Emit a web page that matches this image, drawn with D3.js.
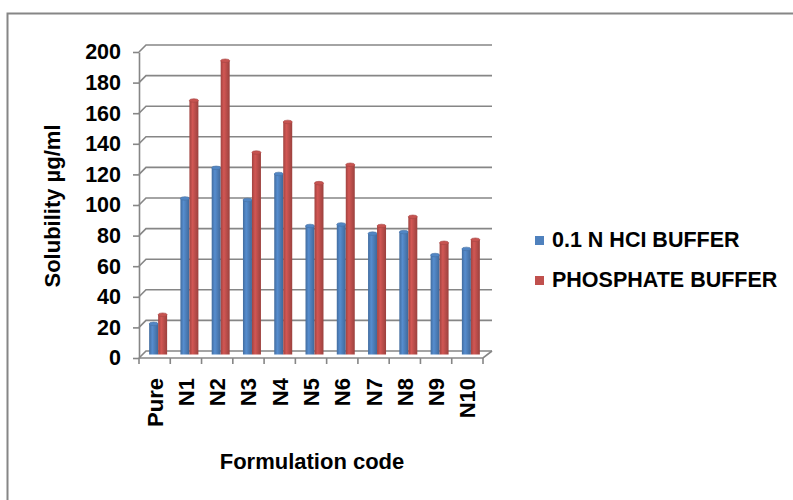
<!DOCTYPE html>
<html>
<head>
<meta charset="utf-8">
<script src="https://cdn.jsdelivr.net/npm/d3@7"></script>
<style>
  body { margin: 0; background: #fff; }
  svg { display: block; font-family: "Liberation Sans", Arial, sans-serif; font-weight: bold; }
  .grid line, .grid path { stroke: #868686; stroke-width: 1.6; fill: none; }
</style>
</head>
<body>
<svg id="chart" width="793" height="500"></svg>
<script>
// chart data
const categories = ['Pure', 'N1', 'N2', 'N3', 'N4', 'N5', 'N6', 'N7', 'N8', 'N9', 'N10'];
const series = ['0.1 N HCI BUFFER', 'PHOSPHATE BUFFER'];
const hclValues = [20, 102, 122, 101, 118, 84, 85, 79, 80, 65, 69];
const phosphateValues = [26, 166, 192, 132, 152, 112, 124, 84, 90, 73, 75];
const yTicks = [0, 20, 40, 60, 80, 100, 120, 140, 160, 180, 200];
const colors = ['#4f81bd', '#c0504d'];

const svg = d3.select('#chart');

// outer chart frame (runs off the right and bottom of the picture)
svg.append('rect')
    .attr('x', 7.5).attr('y', 13.5)
    .attr('width', 820).attr('height', 520)
    .attr('fill', 'none')
    .attr('stroke', '#868686')
    .attr('stroke-width', 2);

// front plane scales; the back wall is shifted by the depth offset
const depth = [7, -7];
const x = d3.scaleBand().domain(categories).range([139, 483]).padding(0);
const y = d3.scaleLinear().domain([0, 200]).range([358, 52]);
const xs = d3.scaleBand().domain(series).range([0, x.bandwidth()]).paddingInner(0).paddingOuter(0.74);

// gridlines: short diagonal on the side wall, then across the back wall
const grid = svg.append('g').attr('class', 'grid');
grid.selectAll('path.gl')
    .data(yTicks)
  .enter().append('path')
    .attr('class', 'gl')
    .attr('d', d => `M139,${y(d)} L${139 + depth[0]},${y(d) + depth[1]} L${483 + depth[0] + 2},${y(d) + depth[1]}`);

// floor front edge and right diagonal
grid.append('path')
    .attr('d', `M139,${y(0)} L483,${y(0)} L${483 + depth[0] + 2},${y(0) + depth[1]}`);

// y axis with ticks
const yAxis = svg.append('g')
    .attr('class', 'grid')
    .attr('transform', 'translate(139,0)')
    .call(d3.axisLeft(y).tickValues(yTicks).tickSize(6).tickSizeOuter(0).tickPadding(12));
yAxis.selectAll('text')
    .attr('fill', '#000')
    .style('font-size', '21.5px')
    .style('font-weight', 'bold')
    .style('font-family', '"Liberation Sans", Arial, sans-serif');
yAxis.selectAll('line').attr('stroke', '#868686');

// x tick marks at category boundaries
const bounds = categories.map(c => x(c)).concat([x.range()[1]]);
grid.selectAll('line.xt')
    .data(bounds)
  .enter().append('line')
    .attr('class', 'xt')
    .attr('x1', d => d).attr('x2', d => d)
    .attr('y1', y(0)).attr('y2', y(0) + 6);

// rotated category labels
svg.append('g').selectAll('text')
    .data(categories)
  .enter().append('text')
    .attr('transform', d => `translate(${x(d) + x.bandwidth() / 2 + 8},378) rotate(-90)`)
    .attr('text-anchor', 'end')
    .style('font-size', '22px')
    .text(d => d);

// cylinder-like shading
const defs = svg.append('defs');
colors.forEach((c, i) => {
    const g = defs.append('linearGradient').attr('id', 'grad' + i).attr('x1', 0).attr('x2', 1).attr('y1', 0).attr('y2', 0);
    const base = d3.color(c);
    g.append('stop').attr('offset', '0%').attr('stop-color', base.darker(0.5));
    g.append('stop').attr('offset', '35%').attr('stop-color', base.brighter(0.25));
    g.append('stop').attr('offset', '100%').attr('stop-color', base.darker(0.6));
});

// bars sit at mid depth
const mid = [depth[0] / 2, depth[1] / 2];
const valueSets = [hclValues, phosphateValues];
series.forEach((s, si) => {
    const g = svg.append('g');
    const w = xs.bandwidth();
    const data = categories.map((c, i) => ({ c: c, v: valueSets[si][i] }));
    g.selectAll('rect')
        .data(data)
      .enter().append('rect')
        .attr('x', d => x(d.c) + xs(s) + mid[0])
        .attr('y', d => y(d.v) + mid[1])
        .attr('width', w)
        .attr('height', d => y(0) - y(d.v))
        .attr('fill', `url(#grad${si})`);
    g.selectAll('ellipse')
        .data(data)
      .enter().append('ellipse')
        .attr('cx', d => x(d.c) + xs(s) + mid[0] + w / 2)
        .attr('cy', d => y(d.v) + mid[1])
        .attr('rx', w / 2)
        .attr('ry', 1.8)
        .attr('fill', d3.color(colors[si]).brighter(0.1))
        .attr('stroke', d3.color(colors[si]).darker(0.4))
        .attr('stroke-width', 0.6);
});

// axis titles
svg.append('text')
    .attr('transform', 'translate(60,206) rotate(-90)')
    .attr('text-anchor', 'middle')
    .style('font-size', '22px')
    .text('Solubility µg/ml');
svg.append('text')
    .attr('x', 312).attr('y', 469)
    .attr('text-anchor', 'middle')
    .style('font-size', '22px')
    .text('Formulation code');

// legend
const legend = svg.append('g').selectAll('g')
    .data(series)
  .enter().append('g')
    .attr('transform', (d, i) => `translate(535,${236 + i * 40})`);
legend.append('rect')
    .attr('width', 9).attr('height', 9)
    .attr('fill', (d, i) => colors[i]);
legend.append('text')
    .attr('x', 17).attr('y', 11)
    .style('font-size', '21.5px')
    .text(d => d);
</script>
</body>
</html>
